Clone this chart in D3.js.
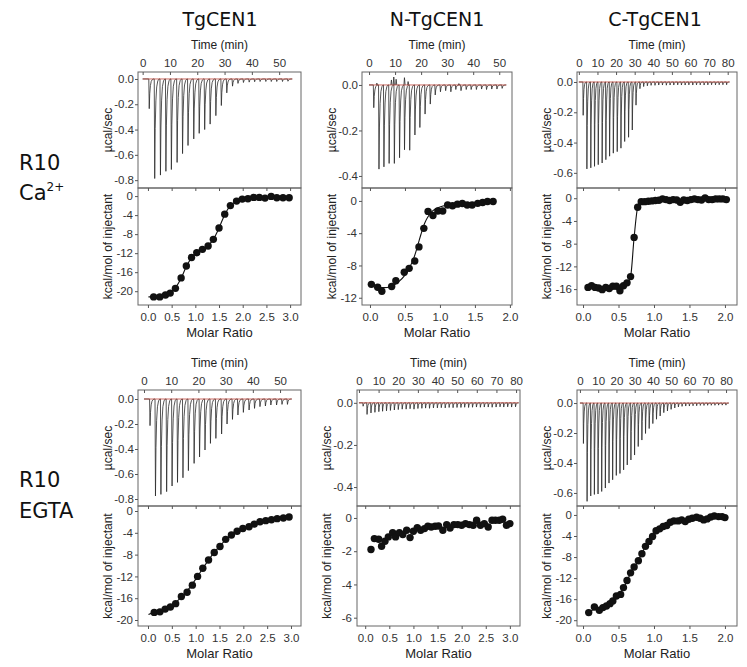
<!DOCTYPE html>
<html>
<head>
<meta charset="utf-8">
<script src="https://cdn.jsdelivr.net/npm/d3@7"></script>
<style>
body { margin: 0; background: #fff; }
svg { display: block; }
.axis text { font-family: "Liberation Sans", Arial, sans-serif; font-size: 11.5px; fill: #333; }
.axis line { stroke: #555; }
.axis path { display: none; }
.lbl { font-family: "Liberation Sans", Arial, sans-serif; font-size: 12px; fill: #222; }
.big { font-family: "DejaVu Sans", Verdana, sans-serif; fill: #111; }
</style>
</head>
<body>
<div id="chart"></div>
<script>
// ---- raw thermograms: injection time (min) and peak height (ucal/sec) ----
const tgCa_time = [2.3,4.3,6.4,8.4,10.4,12.5,14.5,16.5,18.6,20.6,22.6,24.6,26.7,28.7,30.7,32.8,34.8,36.8,38.9,40.9,42.9,45.0,47.0,49.0,51.1,53.1]
const tgCa_peak = [-0.235,-0.787,-0.76,-0.73,-0.716,-0.66,-0.59,-0.526,-0.474,-0.43,-0.40,-0.357,-0.29,-0.21,-0.11,-0.057,-0.035,-0.028,-0.025,-0.022,-0.02,-0.02,-0.02,-0.02,-0.02,-0.018]

const nCa_time = [1.7,3.7,5.6,7.6,9.6,11.6,13.5,15.5,17.5,19.4,21.4,23.4,25.3,27.3,29.3,31.3,33.2,35.2,37.2,39.1,41.1,43.1,45.0,47.0,49.0,51.0]
const nCa_peak = [-0.10,-0.37,-0.36,-0.345,-0.345,-0.32,-0.285,-0.287,-0.22,-0.187,-0.128,-0.084,-0.044,-0.03,-0.025,-0.03,-0.02,-0.025,-0.02,-0.02,-0.02,-0.018,-0.02,-0.018,-0.018,-0.015]
const nCa_blip = [[3.0,0.008],[8.6,0.022],[9.5,0.035],[10.4,0.025],[13.6,0.032],[15.0,0.015],[34.5,0.006]]

const cCa_time = [2.2,4.2,6.3,8.3,10.3,12.4,14.4,16.4,18.4,20.5,22.5,24.5,26.6,28.6,30.6,32.7,34.7,36.7,38.7,40.8,42.8,44.8,46.9,48.9,50.9,53.0,55.0,57.0,59.0,61.1,63.1,65.1,67.2,69.2,71.2,73.3,75.3,77.3,79.3]
const cCa_peak = [-0.22,-0.574,-0.567,-0.557,-0.546,-0.535,-0.513,-0.49,-0.47,-0.46,-0.437,-0.393,-0.365,-0.317,-0.153,-0.044,-0.03,-0.025,-0.022,-0.022,-0.02,-0.02,-0.021,-0.02,-0.02,-0.019,-0.02,-0.02,-0.019,-0.02,-0.019,-0.019,-0.02,-0.019,-0.018,-0.019,-0.018,-0.018,-0.018]

const tgEgta_time = [2.1,4.1,6.1,8.2,10.2,12.2,14.2,16.2,18.3,20.3,22.3,24.3,26.3,28.4,30.4,32.4,34.4,36.4,38.5,40.5,42.5,44.5,46.5,48.6,50.6,52.6]
const tgEgta_peak = [-0.213,-0.776,-0.763,-0.741,-0.696,-0.667,-0.63,-0.573,-0.515,-0.464,-0.408,-0.355,-0.315,-0.28,-0.20,-0.163,-0.128,-0.107,-0.088,-0.075,-0.061,-0.056,-0.048,-0.048,-0.043,-0.043]

const nEgta_time = [2.0,4.0,6.0,8.0,10.0,11.9,13.9,15.9,17.9,19.9,21.9,23.9,25.9,27.9,29.9,31.9,33.8,35.8,37.8,39.8,41.8,43.8,45.8,47.8,49.8,51.8,53.7,55.7,57.7,59.7,61.7,63.7,65.7,67.7,69.7,71.7,73.6,75.6,77.6,79.6]
const nEgta_peak = [-0.016,-0.055,-0.048,-0.045,-0.042,-0.04,-0.038,-0.036,-0.034,-0.032,-0.03,-0.03,-0.028,-0.03,-0.027,-0.026,-0.025,-0.026,-0.024,-0.024,-0.023,-0.024,-0.022,-0.023,-0.022,-0.022,-0.021,-0.022,-0.021,-0.02,-0.021,-0.02,-0.02,-0.021,-0.02,-0.019,-0.02,-0.019,-0.02,-0.019]

const cEgta_time = [1.8,3.8,5.8,7.8,9.8,11.8,13.8,15.8,17.8,19.8,21.8,23.8,25.8,27.8,29.8,31.8,33.8,35.8,37.8,39.8,41.8,43.8,45.8,47.8,49.8,51.8,53.8,55.8,57.8,59.8,61.8,63.8,65.8,67.8,69.8,71.8,73.8,75.8,77.8,79.8]
const cEgta_peak = [-0.27,-0.656,-0.62,-0.61,-0.607,-0.59,-0.567,-0.534,-0.512,-0.483,-0.47,-0.446,-0.413,-0.38,-0.347,-0.29,-0.247,-0.203,-0.17,-0.137,-0.108,-0.086,-0.064,-0.053,-0.042,-0.033,-0.026,-0.022,-0.02,-0.02,-0.018,-0.018,-0.016,-0.016,-0.015,-0.015,-0.015,-0.014,-0.014,-0.014]

// ---- isotherms: molar ratio and heat (kcal/mol of injectant), plus fitted curve ----
const tgCa_ratio = [0.12,0.25,0.37,0.47,0.58,0.70,0.81,0.92,1.03,1.15,1.27,1.38,1.50,1.62,1.74,1.87,1.99,2.11,2.23,2.35,2.47,2.60,2.72,2.85,2.98]
const tgCa_heat = [-21.2,-21.2,-20.8,-20.4,-19.4,-17.2,-14.7,-12.9,-11.9,-11.2,-10.5,-9.1,-6.7,-3.8,-2.0,-1.05,-0.63,-0.56,-0.28,-0.28,-0.42,-0.07,-0.35,-0.35,-0.35]
const tgCa_fit = [[0.01,-21.2],[0.12,-21.2],[0.25,-21.1],[0.37,-20.8],[0.47,-20.3],[0.58,-19.3],[0.70,-17.3],[0.81,-14.8],[0.92,-13.0],[1.03,-11.9],[1.15,-11.2],[1.27,-10.4],[1.38,-9.1],[1.50,-6.7],[1.62,-3.9],[1.74,-2.0],[1.87,-1.1],[1.99,-0.7],[2.11,-0.5],[2.23,-0.35],[2.35,-0.3],[2.47,-0.3],[2.60,-0.25],[2.72,-0.3],[2.85,-0.3],[2.98,-0.32]]

const nCa_ratio = [0.02,0.11,0.17,0.31,0.37,0.49,0.56,0.64,0.70,0.77,0.83,0.90,0.97,1.04,1.11,1.18,1.25,1.32,1.39,1.46,1.54,1.61,1.68,1.76]
const nCa_heat = [-10.34,-10.7,-11.2,-10.6,-9.9,-8.85,-8.36,-7.45,-5.7,-3.4,-1.3,-1.8,-1.25,-1.25,-0.5,-0.6,-0.4,-0.33,-0.5,-0.5,-0.3,-0.2,-0.08,-0.08]
const nCa_fit = [[0.0,-10.2],[0.1,-10.6],[0.2,-10.75],[0.3,-10.6],[0.4,-10.1],[0.5,-9.2],[0.57,-8.2],[0.63,-7.0],[0.68,-5.6],[0.73,-4.1],[0.78,-2.8],[0.84,-1.8],[0.9,-1.2],[1.0,-0.75],[1.1,-0.5],[1.25,-0.35],[1.4,-0.27],[1.6,-0.2],[1.76,-0.15]]

const cCa_ratio = [0.07,0.12,0.17,0.22,0.27,0.32,0.37,0.42,0.47,0.52,0.57,0.62,0.67,0.72,0.77,0.82,0.87,0.92,0.97,1.02,1.07,1.12,1.17,1.22,1.27,1.32,1.37,1.42,1.47,1.52,1.57,1.62,1.67,1.72,1.77,1.82,1.87,1.92,1.97,2.02]
const cCa_heat = [-15.7,-15.4,-15.7,-15.8,-16.1,-15.7,-15.9,-15.5,-15.5,-16.3,-15.4,-14.9,-13.8,-6.9,-1.6,-0.6,-0.6,-0.53,-0.47,-0.4,-0.35,-0.12,-0.24,-0.4,-0.24,-0.3,-0.7,-0.3,-0.4,-0.24,-0.12,-0.24,-0.3,0.06,-0.24,-0.24,-0.12,-0.12,-0.12,-0.24]
const cCa_fit = [[0.07,-15.7],[0.3,-15.75],[0.5,-15.8],[0.6,-15.4],[0.67,-13.8],[0.72,-6.9],[0.77,-1.6],[0.82,-0.6],[0.9,-0.5],[1.2,-0.3],[1.6,-0.2],[2.02,-0.2]]

const tgEgta_ratio = [0.13,0.25,0.36,0.47,0.58,0.70,0.82,0.93,1.04,1.15,1.27,1.39,1.51,1.63,1.75,1.87,1.99,2.12,2.23,2.35,2.47,2.59,2.71,2.84,2.96]
const tgEgta_heat = [-18.6,-18.5,-18.0,-17.6,-17.0,-15.7,-14.9,-13.6,-12.0,-10.5,-9.0,-7.6,-6.5,-5.2,-4.4,-3.7,-3.2,-2.9,-2.4,-1.96,-1.77,-1.6,-1.4,-1.28,-1.1]
const tgEgta_fit = [[0.01,-19.0],[0.13,-18.6],[0.25,-18.4],[0.36,-18.0],[0.47,-17.5],[0.58,-16.8],[0.70,-15.8],[0.82,-14.7],[0.93,-13.4],[1.04,-12.0],[1.15,-10.5],[1.27,-9.0],[1.39,-7.6],[1.51,-6.4],[1.63,-5.3],[1.75,-4.4],[1.87,-3.7],[1.99,-3.2],[2.12,-2.8],[2.23,-2.4],[2.35,-2.0],[2.47,-1.8],[2.59,-1.6],[2.71,-1.4],[2.84,-1.25],[2.96,-1.1]]

const nEgta_ratio = [0.12,0.19,0.28,0.34,0.41,0.48,0.57,0.63,0.71,0.78,0.86,0.93,1.00,1.08,1.15,1.23,1.30,1.37,1.45,1.52,1.61,1.69,1.76,1.84,1.92,2.00,2.08,2.16,2.24,2.31,2.39,2.47,2.55,2.63,2.70,2.78,2.85,2.93,3.00]
const nEgta_heat = [-1.9,-1.24,-1.28,-1.7,-1.4,-1.14,-0.88,-1.14,-0.88,-1.0,-0.74,-1.18,-0.8,-0.58,-0.74,-0.64,-0.5,-0.54,-0.5,-0.48,-0.74,-0.4,-0.6,-0.4,-0.4,-0.44,-0.34,-0.4,-0.44,-0.14,-0.44,-0.34,-0.54,-0.14,-0.14,-0.14,-0.08,-0.44,-0.34]

const cEgta_ratio = [0.08,0.16,0.23,0.28,0.33,0.38,0.42,0.47,0.53,0.57,0.62,0.67,0.72,0.78,0.83,0.88,0.93,0.98,1.03,1.08,1.13,1.18,1.23,1.28,1.34,1.39,1.44,1.49,1.54,1.60,1.65,1.70,1.75,1.80,1.85,1.91,1.96,2.00]
const cEgta_heat = [-18.55,-17.5,-18.1,-17.6,-17.3,-16.85,-16.35,-15.4,-15.1,-13.8,-12.45,-11.0,-9.9,-8.7,-7.36,-5.97,-5.03,-4.1,-3.0,-2.64,-2.2,-2.0,-1.38,-1.13,-1.13,-0.94,-1.26,-0.82,-0.63,-0.44,-0.63,-0.94,-0.75,-0.38,-0.19,-0.31,-0.31,-0.5]
const cEgta_fit = [[0.08,-18.5],[0.16,-17.9],[0.23,-17.7],[0.33,-17.2],[0.42,-16.4],[0.47,-15.6],[0.57,-13.9],[0.67,-11.1],[0.78,-8.6],[0.88,-6.0],[0.98,-4.1],[1.08,-2.7],[1.18,-2.0],[1.28,-1.3],[1.44,-1.0],[1.6,-0.6],[1.8,-0.45],[2.0,-0.4]]

// ---- labels and ticks ----
const proteins = ['TgCEN1', 'N-TgCEN1', 'C-TgCEN1']
const time55 = [0, 10, 20, 30, 40, 50]
const time80 = [0, 10, 20, 30, 40, 50, 60, 70, 80]
const ratio3 = [0, 0.5, 1, 1.5, 2, 2.5, 3]
const ratio2 = [0, 0.5, 1, 1.5, 2]

// shape of one injection spike (time offset, fraction of peak) - drawing style only
const spikeShape = [[-0.05,0],[0.12,1],[0.3,0.5],[0.55,0.22],[0.85,0.08],[1.25,0.02],[1.7,0]]

const width = 747, height = 667

const svg = d3.select('#chart')
    .append('svg')
        .attr('width', width)
        .attr('height', height)

// panel layout + data
const panels = [
    {x0: 138, x1: 301, top: 72, mid: 188, bot: 305,
     tDom: [-1.7, 58], tTicks: time55, rDom: [-0.862, 0.055], rTicks: [0,-0.2,-0.4,-0.6,-0.8],
     mDom: [-0.21, 3.23], mTicks: ratio3, hDom: [-22.9, 1.7], hTicks: [0,-4,-8,-12,-16,-20],
     time: tgCa_time, peak: tgCa_peak, ratio: tgCa_ratio, heat: tgCa_heat, fit: tgCa_fit},
    {x0: 362, x1: 512, top: 72, mid: 188, bot: 305,
     tDom: [-2.7, 54.9], tTicks: time55, rDom: [-0.453, 0.057], rTicks: [0,-0.2,-0.4],
     mDom: [-0.114, 2.03], mTicks: ratio2, hDom: [-12.9, 1.6], hTicks: [0,-4,-8,-12],
     time: nCa_time, peak: nCa_peak, blip: nCa_blip, ratio: nCa_ratio, heat: nCa_heat, fit: nCa_fit},
    {x0: 577, x1: 737, top: 72, mid: 188, bot: 305,
     tDom: [-1, 85], tTicks: time80, rDom: [-0.70, 0.066], rTicks: [0,-0.2,-0.4,-0.6],
     mDom: [-0.085, 2.17], mTicks: ratio2, hDom: [-18.8, 1.8], hTicks: [0,-4,-8,-12,-16],
     time: cCa_time, peak: cCa_peak, ratio: cCa_ratio, heat: cCa_heat, fit: cCa_fit},
    {x0: 138, x1: 301, top: 390, mid: 506, bot: 626,
     tDom: [-2.2, 57.7], tTicks: time55, rDom: [-0.856, 0.072], rTicks: [0,-0.2,-0.4,-0.6,-0.8],
     mDom: [-0.21, 3.21], mTicks: ratio3, hDom: [-21.1, 0.92], hTicks: [0,-4,-8,-12,-16,-20],
     time: tgEgta_time, peak: tgEgta_peak, ratio: tgEgta_ratio, heat: tgEgta_heat, fit: tgEgta_fit},
    {x0: 357, x1: 520, top: 390, mid: 506, bot: 626,
     tDom: [-1, 82], tTicks: time80, rDom: [-0.49, 0.061], rTicks: [0,-0.2,-0.4],
     mDom: [-0.17, 3.21], mTicks: ratio3, hDom: [-6.5, 0.72], hTicks: [0,-2,-4,-6],
     time: nEgta_time, peak: nEgta_peak, ratio: nEgta_ratio, heat: nEgta_heat, fit: null},
    {x0: 577, x1: 737, top: 390, mid: 506, bot: 626,
     tDom: [-1.6, 86], tTicks: time80, rDom: [-0.687, 0.087], rTicks: [0,-0.2,-0.4,-0.6],
     mDom: [-0.085, 2.17], mTicks: ratio2, hDom: [-21.1, 1.7], hTicks: [0,-4,-8,-12,-16,-20],
     time: cEgta_time, peak: cEgta_peak, ratio: cEgta_ratio, heat: cEgta_heat, fit: cEgta_fit}
]

function drawPanel(p){

    var g = svg.append('g')

    var xT = d3.scaleLinear().domain(p.tDom).range([p.x0, p.x1]),
        yR = d3.scaleLinear().domain(p.rDom).range([p.mid, p.top]),
        xM = d3.scaleLinear().domain(p.mDom).range([p.x0, p.x1]),
        yH = d3.scaleLinear().domain(p.hDom).range([p.bot, p.mid]);

    // raw trace: baseline with one spike per injection
    var pts = [[0, 0]]
    d3.zip(p.time, p.peak).forEach(function(d){
        spikeShape.forEach(s => pts.push([d[0] + s[0], d[1] * s[1]]))
    })
    var tEnd = p.time[p.time.length - 1] + 1.7
    pts.push([tEnd, 0])

    var line = d3.line().x(d => xT(d[0])).y(d => yR(d[1]))

    g.append('path')
        .attr('d', line(pts))
        .style('fill', 'none')
        .style('stroke', '#2a2a2a')
        .style('stroke-width', 0.8)

    if(p.blip){
        p.blip.forEach(function(b){
            g.append('path')
                .attr('d', line([[b[0] - 0.2, 0], [b[0], b[1]], [b[0] + 0.25, 0]]))
                .style('fill', 'none')
                .style('stroke', '#2a2a2a')
                .style('stroke-width', 0.8)
        })
    }

    // red baseline
    g.append('path')
        .attr('d', line([[0, 0], [tEnd, 0]]))
        .style('stroke', '#c0453a')
        .style('stroke-width', 0.8)

    // frames
    g.append('rect')
        .attr('x', p.x0).attr('y', p.top)
        .attr('width', p.x1 - p.x0).attr('height', p.mid - p.top)
        .style('fill', 'none').style('stroke', '#666').style('stroke-width', 1)
    g.append('rect')
        .attr('x', p.x0).attr('y', p.mid)
        .attr('width', p.x1 - p.x0).attr('height', p.bot - p.mid)
        .style('fill', 'none').style('stroke', '#666').style('stroke-width', 1)

    // axes for raw panel
    g.append('g')
        .classed('axis', true)
        .attr('transform', 'translate(0,' + p.top + ')')
        .call(d3.axisTop(xT).tickValues(p.tTicks).tickSizeInner(-3).tickSizeOuter(0).tickPadding(5)
                .tickFormat(d => String(d)))
    g.append('g')
        .classed('axis', true)
        .attr('transform', 'translate(' + p.x0 + ',0)')
        .call(d3.axisLeft(yR).tickValues(p.rTicks).tickSize(3).tickPadding(1)
                .tickFormat(d => d.toFixed(1)))

    // axes for isotherm
    g.append('g')
        .classed('axis', true)
        .attr('transform', 'translate(0,' + p.bot + ')')
        .call(d3.axisBottom(xM).tickValues(p.mTicks).tickSize(3).tickPadding(5)
                .tickFormat(d => d.toFixed(1)))
    g.append('g')
        .classed('axis', true)
        .attr('transform', 'translate(0,' + p.mid + ')')
        .call(d3.axisBottom(xM).tickValues(p.mTicks).tickSize(3).tickFormat(''))
    g.append('g')
        .classed('axis', true)
        .attr('transform', 'translate(' + p.x0 + ',0)')
        .call(d3.axisLeft(yH).tickValues(p.hTicks).tickSize(3).tickPadding(2)
                .tickFormat(d => String(d)))

    // fitted curve
    if(p.fit){
        g.append('path')
            .attr('d', d3.line().curve(d3.curveMonotoneX)
                .x(d => xM(d[0])).y(d => yH(d[1]))(p.fit))
            .style('fill', 'none')
            .style('stroke', '#111')
            .style('stroke-width', 1.1)
    }

    // isotherm points
    g.append('g')
        .selectAll('circle')
        .data(d3.zip(p.ratio, p.heat))
        .join('circle')
            .attr('cx', d => xM(d[0]))
            .attr('cy', d => yH(d[1]))
            .attr('r', 3.7)
            .style('fill', '#111')

    // axis titles
    var cx = (p.x0 + p.x1) / 2
    g.append('text').classed('lbl', true)
        .attr('x', cx).attr('y', p.top - 23)
        .attr('text-anchor', 'middle')
        .text('Time (min)')
    g.append('text').classed('lbl', true)
        .attr('x', cx).attr('y', p.bot + 32)
        .attr('text-anchor', 'middle')
        .style('font-size', '13px')
        .text('Molar Ratio')
    g.append('text').classed('lbl', true)
        .attr('transform', 'translate(' + (p.x0 - 26) + ',' + ((p.top + p.mid) / 2) + ') rotate(-90)')
        .attr('text-anchor', 'middle')
        .text('\u00b5cal/sec')
    g.append('text').classed('lbl', true)
        .attr('transform', 'translate(' + (p.x0 - 26) + ',' + ((p.mid + p.bot) / 2) + ') rotate(-90)')
        .attr('text-anchor', 'middle')
        .text('kcal/mol of injectant')
}

panels.forEach(drawPanel)

// column titles
const titleX = [220, 437, 655]
proteins.forEach(function(name, i){
    svg.append('text').classed('big', true)
        .attr('x', titleX[i]).attr('y', 26)
        .attr('text-anchor', 'middle')
        .style('font-size', '19px')
        .text(name)
})

// row labels
svg.append('text').classed('big', true).attr('x', 19).attr('y', 170).style('font-size', '21px').text('R10')
var ca = svg.append('text').classed('big', true).attr('x', 19).attr('y', 200).style('font-size', '21px')
ca.append('tspan').text('Ca')
ca.append('tspan').attr('dy', -9).style('font-size', '12px').text('2+')
svg.append('text').classed('big', true).attr('x', 19).attr('y', 487).style('font-size', '21px').text('R10')
svg.append('text').classed('big', true).attr('x', 19).attr('y', 518).style('font-size', '21px').text('EGTA')
</script>
</body>
</html>
